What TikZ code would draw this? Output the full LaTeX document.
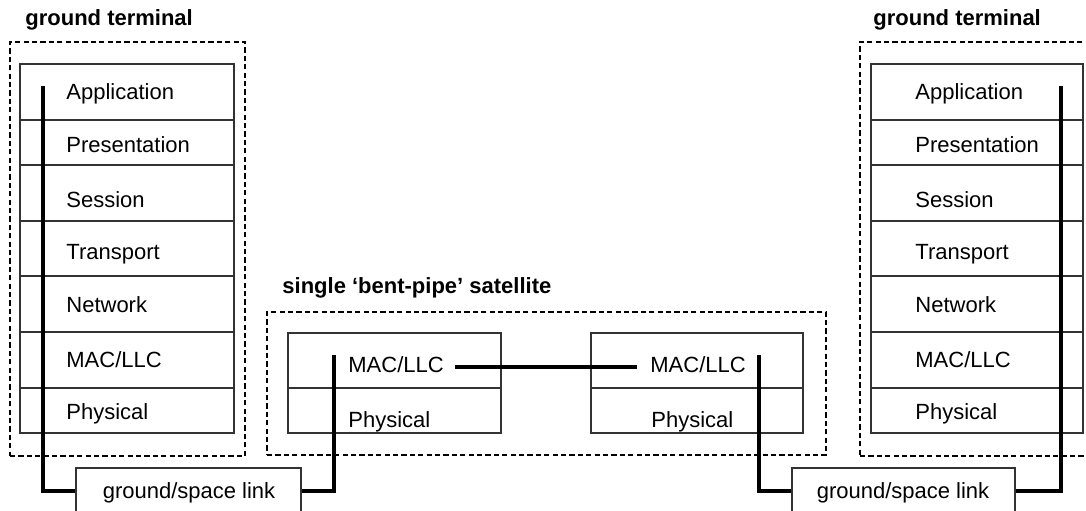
\documentclass[tikz,border=0pt]{standalone}
\usepackage{fontspec}
\setmainfont{Liberation Sans}
\usetikzlibrary{fit}
\begin{document}
\begin{tikzpicture}[x=0.5pt,y=-0.5pt,
  layerbox/.style={draw=black!80,line width=0.65pt,inner sep=0pt},
  grp/.style={draw=black,dash pattern=on 2.6pt off 1.6pt,line width=0.75pt,inner sep=0pt},
  lbl/.style={anchor=base west,inner sep=0pt,font=\fontsize{11}{13}\selectfont},
  clbl/.style={anchor=base,inner sep=0pt,font=\fontsize{11}{13}\selectfont},
  ttl/.style={anchor=base west,inner sep=0pt,font=\fontsize{11}{13}\selectfont\bfseries},
  pipe/.style={draw=black,line width=2pt}]
\useasboundingbox (0,0) rectangle (1086,510);

% ---- group boxes ----
\node[grp,fit={(10,42)(245,456)}] (gL) {};
\node[grp,fit={(860,42)(1096,456)}] (gR) {};
\node[grp,fit={(267,312)(826,455)}] (gS) {};
\node[ttl] (tL) at (25,25) {ground terminal};
\node[ttl] (tR) at (873,25) {ground terminal};
\node[ttl] (tS) at (282,293) {single ‘bent-pipe’ satellite};

% ---- left stack ----
\node[layerbox,fit={(20,64)(234,120)}]  (L1) {};
\node[layerbox,fit={(20,120)(234,165)}] (L2) {};
\node[layerbox,fit={(20,165)(234,221)}] (L3) {};
\node[layerbox,fit={(20,221)(234,276)}] (L4) {};
\node[layerbox,fit={(20,276)(234,332)}] (L5) {};
\node[layerbox,fit={(20,332)(234,388)}] (L6) {};
\node[layerbox,fit={(20,388)(234,433)}] (L7) {};
\node[lbl] (L1t) at (66,99)  {Application};
\node[lbl] (L2t) at (66,152) {Presentation};
\node[lbl] (L3t) at (66,207) {Session};
\node[lbl] (L4t) at (66,259) {Transport};
\node[lbl] (L5t) at (66,312) {Network};
\node[lbl] (L6t) at (66,367) {MAC/LLC};
\node[lbl] (L7t) at (66,419) {Physical};

% ---- right stack ----
\node[layerbox,fit={(871,64)(1083,120)}]  (R1) {};
\node[layerbox,fit={(871,120)(1083,165)}] (R2) {};
\node[layerbox,fit={(871,165)(1083,221)}] (R3) {};
\node[layerbox,fit={(871,221)(1083,276)}] (R4) {};
\node[layerbox,fit={(871,276)(1083,332)}] (R5) {};
\node[layerbox,fit={(871,332)(1083,388)}] (R6) {};
\node[layerbox,fit={(871,388)(1083,433)}] (R7) {};
\node[lbl] (R1t) at (915,99)  {Application};
\node[lbl] (R2t) at (915,152) {Presentation};
\node[lbl] (R3t) at (915,207) {Session};
\node[lbl] (R4t) at (915,259) {Transport};
\node[lbl] (R5t) at (915,312) {Network};
\node[lbl] (R6t) at (915,367) {MAC/LLC};
\node[lbl] (R7t) at (915,419) {Physical};

% ---- satellite ----
\node[layerbox,fit={(288,333)(501,388)}] (S1a) {};
\node[layerbox,fit={(288,388)(501,433)}] (S1b) {};
\node[layerbox,fit={(591,333)(803,388)}] (S2a) {};
\node[layerbox,fit={(591,388)(803,433)}] (S2b) {};
\node[lbl] (S1at) at (348,372) {MAC/LLC};
\node[lbl] (S1bt) at (348,427) {Physical};
\node[lbl] (S2at) at (650,372) {MAC/LLC};
\node[lbl] (S2bt) at (651,427) {Physical};

% ---- ground/space links ----
\node[layerbox,fit={(76,468)(301,514)}] (K1) {};
\node[layerbox,fit={(792,468)(1015,514)}] (K2) {};
\node[clbl] (K1t) at (189,498) {ground/space link};
\node[clbl] (K2t) at (903,498) {ground/space link};

% ---- connector end points ----
\coordinate (pL) at (43,86);
\coordinate (pR) at (1061,86);
\coordinate (pS1) at (334,355);
\coordinate (pS2) at (759,355);
\coordinate (mA) at (455,367);
\coordinate (mB) at (637,367);

% ---- pipes ----
\draw[pipe] (pL) |- (K1.west);
\draw[pipe] (K1.east) -| (pS1);
\draw[pipe] (mA) -- (mB);
\draw[pipe] (pS2) |- (K2.west);
\draw[pipe] (K2.east) -| (pR);
\end{tikzpicture}
\end{document}
